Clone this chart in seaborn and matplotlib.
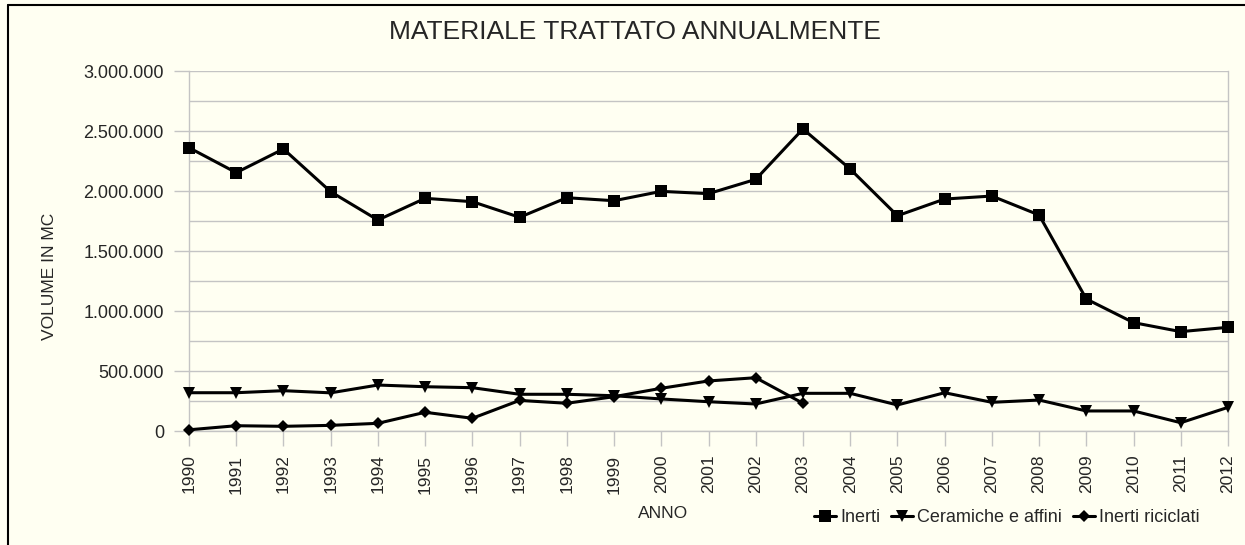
import seaborn as sns
import matplotlib.pyplot as plt
import matplotlib.ticker as mticker
from matplotlib.lines import Line2D
import pandas as pd
import numpy as np

# Data (cubic metres per year)
anni = list(range(1990, 2013))
inerti = [2361000, 2153000, 2350000, 1994000, 1758000, 1939000, 1911000,
          1781000, 1944000, 1919000, 1997000, 1978000, 2097000, 2517000,
          2183000, 1794000, 1933000, 1958000, 1800000, 1100000, 903000,
          828000, 864000]
ceramiche = [319000, 319000, 336000, 318000, 383000, 369000, 361000,
             306000, 306000, 294000, 267000, 244000, 225000, 314000,
             314000, 217000, 319000, 239000, 258000, 167000, 167000,
             69000, 197000]
riciclati = [10000, 44000, 39000, 47000, 64000, 156000, 106000,
             255000, 231000, 286000, 356000, 417000, 444000, 231000,
             np.nan, np.nan, np.nan, np.nan, np.nan, np.nan, np.nan,
             np.nan, np.nan]

df = pd.DataFrame({'Anno': anni, 'Inerti': inerti,
                   'Ceramiche e affini': ceramiche,
                   'Inerti riciclati': riciclati})

sns.set_theme(style="white")
plt.rcParams['font.family'] = ['Liberation Sans', 'DejaVu Sans']

bg = '#fffff2'
grid_col = '#c4c4c4'
W, H = 1245, 545
fig = plt.figure(figsize=(W / 100, H / 100), dpi=100, facecolor=bg)
ax = fig.add_axes([189 / W, 1 - 431 / H, (1228 - 189) / W, (431 - 71) / H])
ax.set_facecolor(bg)

series = [('Inerti', 's', 8.5), ('Ceramiche e affini', 'v', 8.5),
          ('Inerti riciclati', 'D', 6.5)]
for name, mk, ms in series:
    sns.lineplot(x='Anno', y=name, data=df, ax=ax, color='black',
                 marker=mk, markersize=ms, markeredgewidth=0,
                 linewidth=2.2, label=name, legend=False, clip_on=False,
                 zorder=3)

ax.set_xlim(1990, 2012)
ax.set_ylim(0, 3000000)
ax.set_xticks(anni)
ax.set_xticklabels([str(a) for a in anni], rotation=90, fontsize=12.5)
ax.yaxis.set_major_locator(mticker.MultipleLocator(500000))
ax.yaxis.set_minor_locator(mticker.MultipleLocator(250000))
ax.yaxis.set_major_formatter(
    mticker.FuncFormatter(lambda v, p: f"{int(v):,}".replace(",", ".")))
ax.tick_params(axis='y', which='major', labelsize=13, length=11,
               color=grid_col, width=1, pad=7, left=True)
ax.tick_params(axis='y', which='minor', length=0)
ax.tick_params(axis='x', length=11, color=grid_col, width=1, pad=6,
               bottom=True)
ax.grid(True, axis='y', which='both', color=grid_col, linewidth=1)
for side in ['left', 'right', 'bottom', 'top']:
    ax.spines[side].set_visible(side != 'top')
    ax.spines[side].set_color(grid_col)
    ax.spines[side].set_linewidth(1)
ax.set_xlabel('')
ax.set_ylabel('')

fig.text(635 / W, 1 - 32 / H, 'MATERIALE TRATTATO ANNUALMENTE',
         fontsize=19, ha='center', va='center')
fig.text(50 / W, 1 - 276 / H, 'VOLUME IN MC', fontsize=12.5,
         rotation=90, ha='center', va='center')
fig.text(663 / W, 1 - 513 / H, 'ANNO', fontsize=12.5,
         ha='center', va='center')

handles, labels = ax.get_legend_handles_labels()
fig.legend(handles, labels, loc='center right', ncol=3, frameon=False,
           bbox_to_anchor=(1200 / W, 1 - 518 / H), fontsize=13,
           handlelength=1.2, handletextpad=0.25, columnspacing=0.6,
           borderpad=0, borderaxespad=0)

# outer frame (only left and top edges fall inside the picture)
fig.add_artist(Line2D([8 / W, 8 / W], [-0.1, 1 - 5 / H], color='black',
                      linewidth=1.5, transform=fig.transFigure))
fig.add_artist(Line2D([8 / W, 1.1], [1 - 5 / H, 1 - 5 / H], color='black',
                      linewidth=1.5, transform=fig.transFigure))

fig.savefig('out.png', dpi=100, facecolor=bg)
